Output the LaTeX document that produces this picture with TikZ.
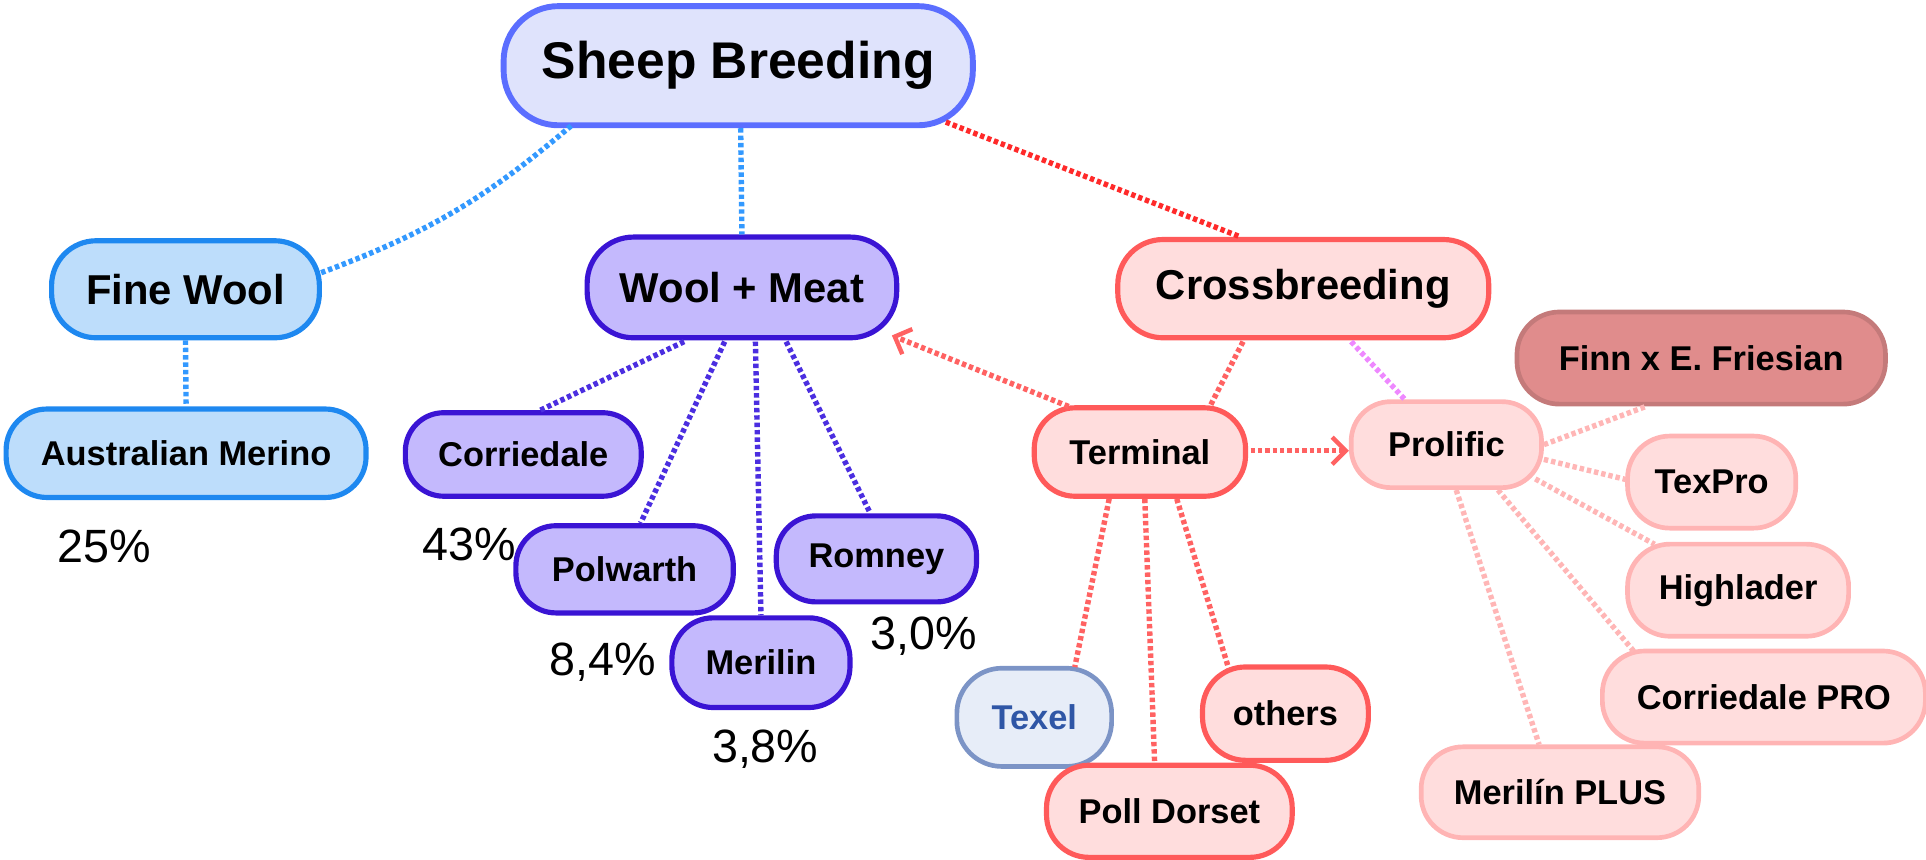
\documentclass[tikz,border=0pt]{standalone}
\usepackage{fontspec}
\setmainfont{Liberation Sans}
\usetikzlibrary{calc,arrows.meta}
\definecolor{sbF}{HTML}{DFE3FC}
\definecolor{sbB}{HTML}{5B6EFF}
\definecolor{fwF}{HTML}{BDDDFB}
\definecolor{fwB}{HTML}{1E88F0}
\definecolor{wmF}{HTML}{C4B9FD}
\definecolor{wmB}{HTML}{3A14D4}
\definecolor{crF}{HTML}{FFDDDD}
\definecolor{crB}{HTML}{FF5A5A}
\definecolor{prB}{HTML}{FFB4B4}
\definecolor{fiF}{HTML}{E08C8C}
\definecolor{fiB}{HTML}{C47A7A}
\definecolor{txF}{HTML}{E7EDF8}
\definecolor{txB}{HTML}{7C94C6}
\definecolor{txT}{HTML}{2F56A6}
\definecolor{lkBlue}{HTML}{3399FF}
\definecolor{lkRed}{HTML}{FF2A2A}
\definecolor{lkViolet}{HTML}{4B2EE0}
\definecolor{lkRedB}{HTML}{FF6262}
\definecolor{lkMag}{HTML}{EE88FF}
\definecolor{lkPink}{HTML}{FFB6B6}
\newcommand\fsA{\fontsize{21}{25}\selectfont\bfseries}
\newcommand\fsB{\fontsize{17}{20}\selectfont\bfseries}
\newcommand\fsC{\fontsize{14}{17}\selectfont\bfseries}
\newcommand\fsP{\fontsize{19}{22}\selectfont}
\begin{document}
\begin{tikzpicture}[x=0.5pt,y=-0.5pt,
  pill/.style 2 args={shape=rectangle, inner sep=0pt, align=center,
    minimum width=#1*0.5pt, minimum height=#2*0.5pt, rounded corners=#2*0.23pt},
  sbst/.style={draw=sbB, fill=sbF, line width=2.4pt, font=\fsA},
  fwst/.style={draw=fwB, fill=fwF, line width=2.1pt},
  wmst/.style={draw=wmB, fill=wmF, line width=2.1pt},
  crst/.style={draw=crB, fill=crF, line width=2.1pt},
  prst/.style={draw=prB, fill=crF, line width=1.9pt, font=\fsC},
  fist/.style={draw=fiB, fill=fiF, line width=1.9pt, font=\fsC},
  txst/.style={draw=txB, fill=txF, text=txT, line width=1.9pt, font=\fsC},
  pct/.style={inner sep=0pt, font=\fsP},
  link/.style={line width=2.2pt, dash pattern=on 1.8pt off 1.2pt},
  barb/.style={-{Straight Barb[length=5.5pt,width=11pt,line width=1.8pt]}}
]
\useasboundingbox (0,0) rectangle (1568,700);

% nodes
\node[pill={382}{97}, sbst] (sb) at (601,53.5) {Sheep Breeding};
\node[pill={218}{79}, fwst, font=\fsB] (fw) at (151,235.5) {Fine Wool};
\node[pill={252}{82}, wmst, font=\fsB] (wm) at (604,234) {Wool + Meat};
\node[pill={302}{80}, crst, font=\fsB] (cb) at (1061,235) {Crossbreeding};
\node[pill={293}{72}, fwst, font=\fsC] (am) at (151.5,369) {Australian Merino};
\node[pill={192}{68}, wmst, font=\fsC] (cor) at (426,370) {Corriedale};
\node[pill={177}{71}, wmst, font=\fsC] (pol) at (508.5,463.5) {Polwarth};
\node[pill={163}{70}, wmst, font=\fsC] (rom) at (713.5,455) {Romney};
\node[pill={145}{73}, wmst, font=\fsC] (mer) at (619.5,539.5) {Merilin};
\node[pill={172}{72}, crst, font=\fsC] (ter) at (928,368) {Terminal};
\node[pill={155}{70}, prst] (pro) at (1177.5,362) {Prolific};
\node[pill={300}{75}, fist] (finn) at (1385,291.5) {Finn x E. Friesian};
\node[pill={137}{75}, prst] (texpro) at (1393.5,392.5) {TexPro};
\node[pill={180}{75}, prst] (hi) at (1415,480.5) {Highlader};
\node[pill={263}{75}, prst] (cpro) at (1436,567.5) {Corriedale PRO};
\node[pill={226}{74}, prst] (mp) at (1270,645) {Merilín PLUS};
\node[pill={126}{80}, txst] (tex) at (842,584) {Texel};
\node[pill={200}{75}, crst, font=\fsC] (pd) at (952,660.5) {Poll Dorset};
\node[pill={135}{76}, crst, font=\fsC] (oth) at (1046.5,581) {others};

% percentages
\node[pct] (p1) at (85,445) {25\%};
\node[pct] (p2) at (382,443) {43\%};
\node[pct] (p3) at (491,539) {8,4\%};
\node[pct] (p4) at (623,610) {3,8\%};
\node[pct] (p5) at (752,518) {3,0\%};

% connectors
\draw[link, lkBlue] ($(sb.south)+(-136,-2)$) to[bend left=10] ($(fw.east)+(-2,-13)$);
\draw[link, lkBlue] ($(sb.south)+(2,0)$) -- (wm.north);
\draw[link, lkRed] ($(sb.south)+(169,-5)$) -- ($(cb.north)+(-51,0)$);
\draw[link, lkBlue] (fw.south) -- (am.north);

\draw[link, lkViolet] ($(wm.south)+(-47,1)$) -- ($(cor.north)+(14,0)$);
\draw[link, lkViolet] ($(wm.south)+(-14,1)$) -- ($(pol.north)+(13,0)$);
\draw[link, lkViolet] ($(wm.south)+(11,1)$) -- (mer.north);
\draw[link, lkViolet] ($(wm.south)+(36,1)$) -- ($(rom.north)+(-5,0)$);

\draw[link, lkRedB, barb] ($(ter.north)+(-58,1)$) -- ($(wm.south east)+(-6,-4)$);
\draw[link, lkRedB, barb] ($(ter.east)+(2,-1)$) -- ($(pro.west)+(0,5)$);

\draw[link, lkRedB] ($(cb.south)+(-49,1)$) -- ($(ter.north)+(57,1)$);
\draw[link, lkMag] ($(cb.south)+(39,1)$) -- ($(pro.north)+(-33,1)$);

\draw[link, lkRedB] ($(ter.south)+(-25,0)$) -- ($(tex.north)+(33,1)$);
\draw[link, lkRedB] ($(ter.south)+(4,0)$) -- ($(pd.north)+(-12,0)$);
\draw[link, lkRedB] ($(ter.south)+(30,0)$) -- ($(oth.north)+(-46,4)$);

\draw[link, lkPink] ($(pro.east)+(0,0)$) -- ($(finn.south)+(-45,0)$);
\draw[link, lkPink] ($(pro.east)+(0,12)$) -- ($(texpro.west)+(1,-2)$);
\draw[link, lkPink] ($(pro.south east)+(-7,-9)$) -- ($(hi.north)+(-68,2)$);
\draw[link, lkPink] ($(pro.south)+(42,0)$) -- ($(cpro.north)+(-106,2)$);
\draw[link, lkPink] ($(pro.south)+(8,0)$) -- ($(mp.north)+(-17,0)$);
\end{tikzpicture}
\end{document}
